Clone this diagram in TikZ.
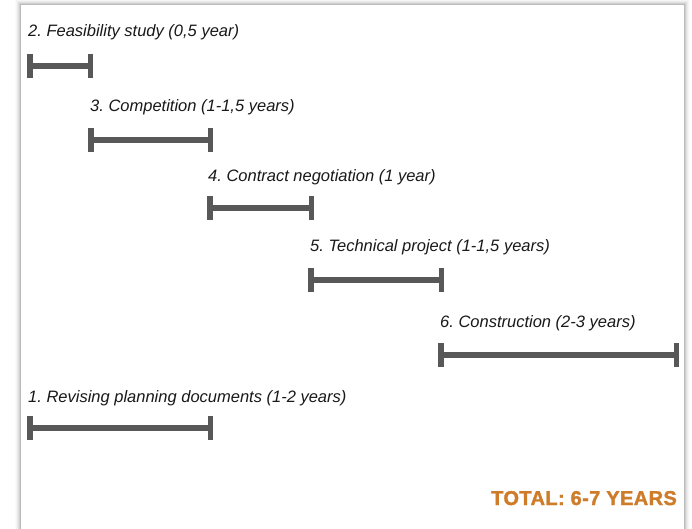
\documentclass[tikz,border=0pt]{standalone}
\usepackage{fontspec}
\setmainfont{Liberation Sans}
\frenchspacing
\usetikzlibrary{arrows.meta}
\definecolor{bargray}{RGB}{88,88,88}
\definecolor{totalorange}{RGB}{206,124,42}
\tikzset{
  phase/.style={draw=bargray, line width=5.5pt, {Bar[width=24pt]}-{Bar[width=24pt]}},
  stage/.style={anchor=base west, inner sep=0pt, font=\itshape\fontsize{16.5}{19}\selectfont, text=black!90}
}
\begin{document}
\begin{tikzpicture}[x=1pt,y=-1pt]
\useasboundingbox (0,0) rectangle (692,529);
% panel with soft shadow
\foreach \d/\o in {1/0.10,2/0.07,3/0.05,4/0.035,5/0.025,6/0.015}
  \fill[black,opacity=\o] (21-\d,5-\d) rectangle (684+\d,540);
\fill[white] (21,5) rectangle (684,540);

\node[stage] (feas) at (28,37) {2. Feasibility study (0,5 year)};
\node[stage] (comp) at (90,112) {3. Competition (1-1,5 years)};
\node[stage] (contr) at (208,182) {4. Contract negotiation (1 year)};
\node[stage] (tech) at (310,251) {5. Technical project (1-1,5 years)};
\node[stage] (constr) at (440,327) {6. Construction (2-3 years)};
\node[stage] (plan) at (28,402) {1. Revising planning documents (1-2 years)};

\coordinate (feasA) at (27,66);   \coordinate (feasB) at (93,66);
\coordinate (compA) at (88,140);  \coordinate (compB) at (213,140);
\coordinate (contrA) at (207,208); \coordinate (contrB) at (314,208);
\coordinate (techA) at (308,280); \coordinate (techB) at (444,280);
\coordinate (constrA) at (438,355); \coordinate (constrB) at (679,355);
\coordinate (planA) at (27,428); \coordinate (planB) at (213,428);

\draw[phase] (feasA) -- (feasB);
\draw[phase] (compA) -- (compB);
\draw[phase] (contrA) -- (contrB);
\draw[phase] (techA) -- (techB);
\draw[phase] (constrA) -- (constrB);
\draw[phase] (planA) -- (planB);

\node[anchor=base east, inner sep=0pt, font=\bfseries\fontsize{20}{22}\selectfont\addfontfeature{FakeBold=1.6,LetterSpace=2}, text=totalorange] (total) at (677,505) {TOTAL: 6-7 YEARS};
\end{tikzpicture}
\end{document}
